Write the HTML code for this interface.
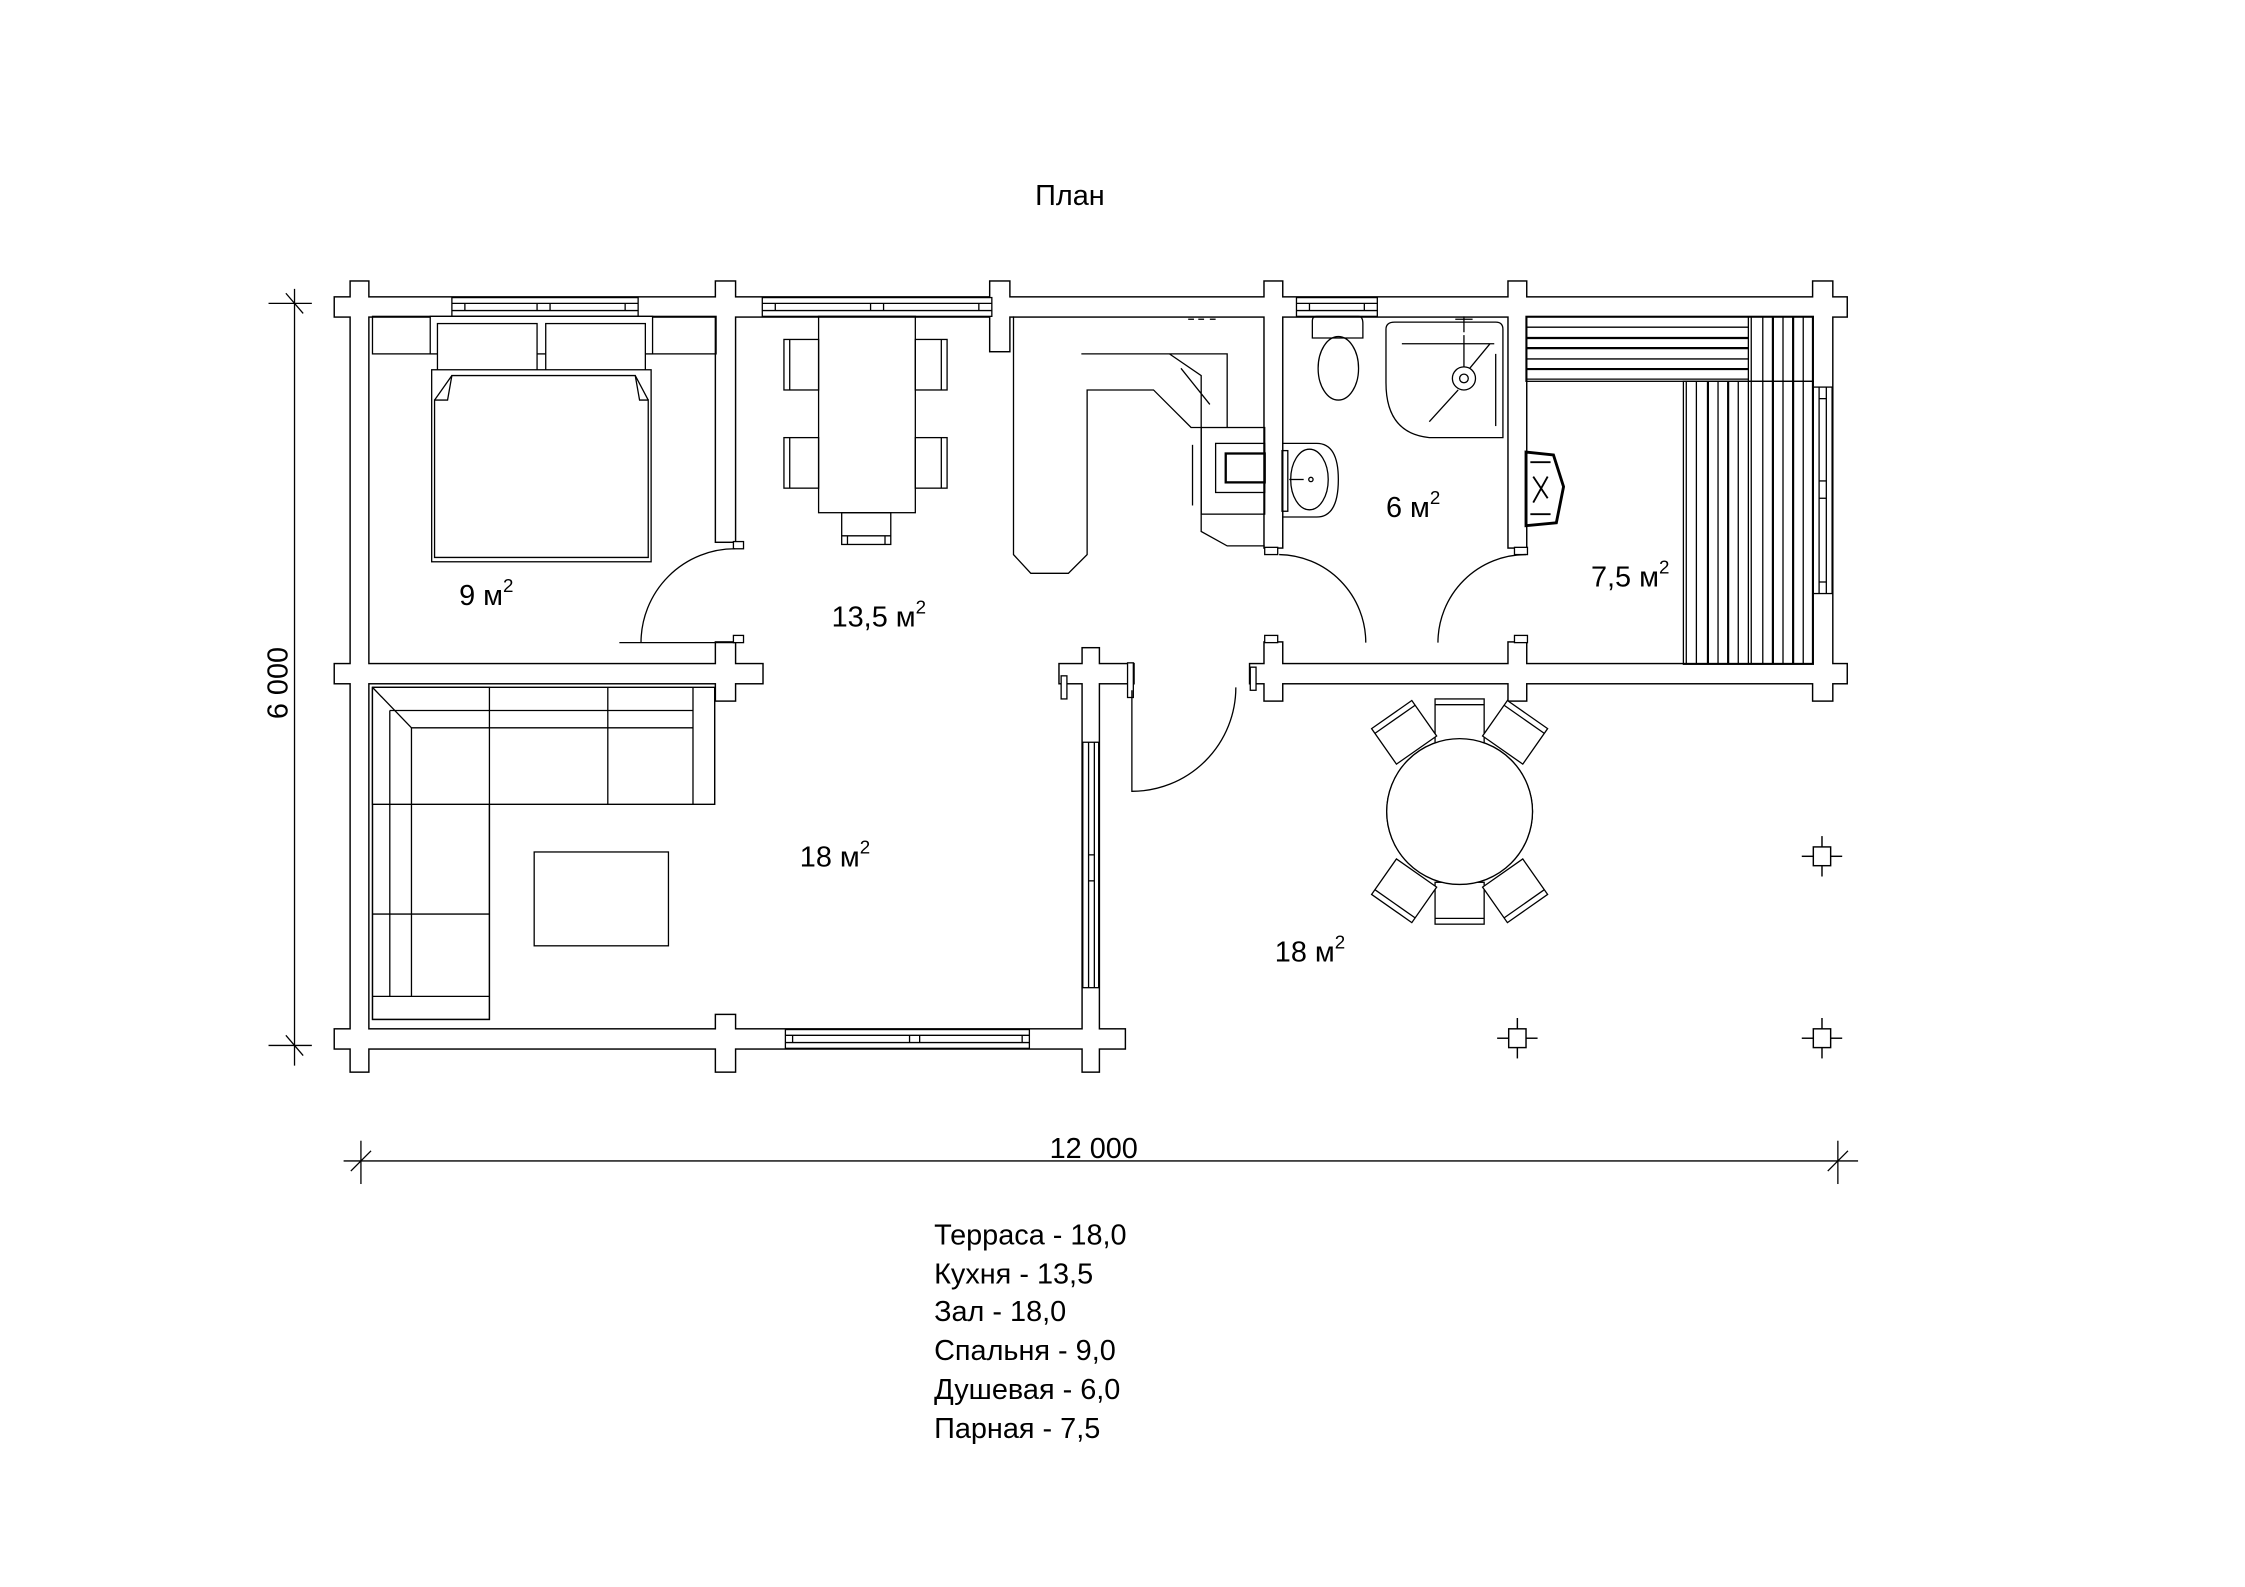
<!DOCTYPE html>
<html><head><meta charset="utf-8"><style>
html,body{margin:0;padding:0;background:#fff}
svg{display:block}
text{font-family:"Liberation Sans",sans-serif;fill:#000}
</style></head><body>
<svg width="2245" height="1587" viewBox="0 0 1555 1099" xmlns="http://www.w3.org/2000/svg">
<defs>
<g id="walls">
 <rect x="232" y="206" width="1047" height="13"/>
 <rect x="232" y="460" width="296" height="13"/>
 <rect x="232" y="713" width="547" height="13"/>
 <rect x="866" y="460" width="413" height="13"/>
 <rect x="734" y="460" width="51" height="13"/>
 <rect x="243" y="195" width="12" height="547"/>
 <rect x="496" y="195" width="13" height="180"/>
 <rect x="496" y="445" width="13" height="40"/>
 <rect x="496" y="703" width="13" height="39"/>
 <rect x="686" y="195" width="13" height="48"/>
 <rect x="876" y="195" width="12" height="184"/>
 <rect x="876" y="445" width="12" height="40"/>
 <rect x="1045" y="195" width="12" height="184"/>
 <rect x="1045" y="445" width="12" height="40"/>
 <rect x="1256" y="195" width="13" height="290"/>
 <rect x="750" y="449" width="11" height="293"/>
</g>
<g id="col"><rect x="-6" y="-6.5" width="12" height="13" fill="#fff" stroke="#000"/><line x1="-14" y1="0" x2="-6" y2="0" stroke="#000"/><line x1="6" y1="0" x2="14" y2="0" stroke="#000"/><line x1="0" y1="-14" x2="0" y2="-6.5" stroke="#000"/><line x1="0" y1="6.5" x2="0" y2="14" stroke="#000"/></g>
</defs>
<rect width="1555" height="1099" fill="#fff"/>
<g fill="none" stroke="#000" stroke-width="1">
<use href="#walls" stroke-width="2"/>
</g>
<use href="#walls" fill="#fff" stroke="#fff" stroke-width="0"/>

<g fill="#fff" stroke="#000" stroke-width="0.9">
<!-- windows -->
<rect x="313" y="206" width="129" height="13"/><line x1="313" y1="210" x2="442" y2="210"/><line x1="313" y1="215" x2="442" y2="215"/><line x1="322" y1="210" x2="322" y2="215"/><line x1="433" y1="210" x2="433" y2="215"/><line x1="372" y1="210" x2="372" y2="215"/><line x1="381" y1="210" x2="381" y2="215"/>
<rect x="528" y="206" width="159" height="13"/><line x1="528" y1="210" x2="687" y2="210"/><line x1="528" y1="215" x2="687" y2="215"/><line x1="537" y1="210" x2="537" y2="215"/><line x1="678" y1="210" x2="678" y2="215"/><line x1="603" y1="210" x2="603" y2="215"/><line x1="612" y1="210" x2="612" y2="215"/>
<rect x="898" y="206" width="56" height="13"/><line x1="898" y1="210" x2="954" y2="210"/><line x1="898" y1="215" x2="954" y2="215"/><line x1="907" y1="210" x2="907" y2="215"/><line x1="945" y1="210" x2="945" y2="215"/>
<rect x="544" y="713" width="169" height="13"/><line x1="544" y1="717" x2="713" y2="717"/><line x1="544" y1="722" x2="713" y2="722"/><line x1="549" y1="717" x2="549" y2="722"/><line x1="708" y1="717" x2="708" y2="722"/><line x1="630" y1="717" x2="630" y2="722"/><line x1="637" y1="717" x2="637" y2="722"/>
<rect x="750" y="514" width="11" height="170"/><line x1="754" y1="514" x2="754" y2="684"/><line x1="758" y1="514" x2="758" y2="684"/><line x1="754" y1="592" x2="758" y2="592"/><line x1="754" y1="610" x2="758" y2="610"/>
<rect x="1256" y="268" width="13" height="143"/><line x1="1260" y1="268" x2="1260" y2="411"/><line x1="1265" y1="268" x2="1265" y2="411"/><line x1="1260" y1="276" x2="1265" y2="276"/><line x1="1260" y1="403" x2="1265" y2="403"/><line x1="1260" y1="333" x2="1265" y2="333"/><line x1="1260" y1="345" x2="1265" y2="345"/>
<!-- small jamb rects -->
<rect x="735" y="468" width="4" height="16"/><rect x="781" y="459" width="4" height="24"/><rect x="866" y="462" width="4" height="16"/>
<rect x="508" y="375" width="7" height="5"/><rect x="508" y="440" width="7" height="5"/>
<rect x="876" y="379" width="9" height="5"/><rect x="876" y="440" width="9" height="5"/>
<rect x="1049" y="379" width="9" height="5"/><rect x="1049" y="440" width="9" height="5"/>
</g>

<g fill="none" stroke="#000" stroke-width="0.9">
<!-- doors -->
<path d="M509 380 A65 65 0 0 0 444 445 L429 445 M509 445 L444 445"/>
<path d="M886 384 A61 61 0 0 1 946 445 L946 445"/>
<path d="M1057 384 A61 61 0 0 0 996 445"/>
<path d="M784 478 L784 548 A72 72 0 0 0 856 476"/>
<!-- bedroom -->
<rect x="258" y="219" width="238" height="26"/>
<rect x="298" y="219" width="154" height="26" fill="#fff"/>
<rect x="303" y="224" width="69" height="36" fill="#fff"/>
<rect x="378" y="224" width="69" height="36" fill="#fff"/>
<rect x="299" y="256" width="152" height="133" fill="#fff"/>
<path d="M301 386 L301 277 L310 277 L313 260 L440 260 L443 277 L449 277 L449 386 Z"/>
<path d="M301 277 L313 260 M449 277 L440 260"/>
<!-- kitchen table -->
<rect x="567" y="219" width="67" height="136"/>
<rect x="543" y="235" width="24" height="35"/><line x1="547" y1="235" x2="547" y2="270"/>
<rect x="543" y="303" width="24" height="35"/><line x1="547" y1="303" x2="547" y2="338"/>
<rect x="634" y="235" width="22" height="35"/><line x1="652" y1="235" x2="652" y2="270"/>
<rect x="634" y="303" width="22" height="35"/><line x1="652" y1="303" x2="652" y2="338"/>
<rect x="583" y="355" width="34" height="22"/><line x1="583" y1="371" x2="617" y2="371"/><line x1="587" y1="371" x2="587" y2="377"/><line x1="613" y1="371" x2="613" y2="377"/>
<!-- kitchen counter -->
<path d="M702 219 L702 384 L714 397 L740 397 L753 384 L753 270 L799 270 L825 296 L832 296 L832 368 L850 378 L876 378"/>
<path d="M749 245 L850 245 L850 296"/>
<path d="M832 296 L832 260 L810 245 M818 255 L838 280"/>
<rect x="832" y="296" width="44" height="60"/>
<rect x="842" y="307" width="34" height="34"/>
<rect x="849" y="314" width="27" height="20" stroke-width="1.6"/>
<line x1="826" y1="308" x2="826" y2="350"/>
<line x1="823" y1="221" x2="827" y2="221"/><line x1="830" y1="221" x2="834" y2="221"/><line x1="838" y1="221" x2="842" y2="221"/>
<!-- bathroom -->
<path d="M909 222 Q909 219 912 219 L941 219 Q944 219 944 224 L944 234 L909 234 Z"/>
<ellipse cx="927" cy="255" rx="14" ry="22"/>
<path d="M960 228 Q960 223 966 223 L1036 223 Q1041 223 1041 228 L1041 303 L990 303 Q960 300 960 265 Z"/>
<circle cx="1014" cy="262" r="8"/><circle cx="1014" cy="262" r="3"/>
<line x1="971" y1="238" x2="1035" y2="238"/><line x1="1014" y1="232" x2="1014" y2="254"/>
<line x1="1018" y1="255" x2="1032" y2="238"/><line x1="1010" y1="270" x2="990" y2="292"/>
<line x1="1036" y1="245" x2="1036" y2="295"/>
<path d="M1008 221 L1020 221 M1014 219 L1014 230"/>
<path d="M888 307 L912 307 Q927 307 927 332 Q927 358 912 358 L888 358"/>
<ellipse cx="907" cy="332" rx="13" ry="21"/>
<rect x="888" y="312" width="4" height="42"/>
<circle cx="908" cy="332" r="1.5"/><line x1="893" y1="332" x2="903" y2="332"/>
<!-- sauna benches -->
<rect x="1057" y="219" width="199" height="45" fill="none"/>
<line x1="1057" y1="226.5" x2="1211" y2="226.5"/><line x1="1057" y1="234" x2="1211" y2="234" stroke-width="1.5"/><line x1="1057" y1="241" x2="1211" y2="241" stroke-width="1.5"/><line x1="1057" y1="248.5" x2="1211" y2="248.5"/><line x1="1057" y1="255.5" x2="1211" y2="255.5" stroke-width="1.5"/><line x1="1057" y1="262.5" x2="1211" y2="262.5"/>
<rect x="1166" y="264" width="90" height="196"/>
<line x1="1211" y1="219" x2="1211" y2="460"/><line x1="1213" y1="219" x2="1213" y2="460"/>
<line x1="1221" y1="219" x2="1221" y2="460"/><line x1="1228" y1="219" x2="1228" y2="460" stroke-width="1.5"/><line x1="1235" y1="219" x2="1235" y2="460"/><line x1="1242" y1="219" x2="1242" y2="460" stroke-width="1.5"/><line x1="1249" y1="219" x2="1249" y2="460"/>
<line x1="1168" y1="264" x2="1168" y2="460"/><line x1="1175" y1="264" x2="1175" y2="460"/><line x1="1183" y1="264" x2="1183" y2="460" stroke-width="1.5"/><line x1="1190" y1="264" x2="1190" y2="460"/><line x1="1197" y1="264" x2="1197" y2="460" stroke-width="1.5"/><line x1="1204" y1="264" x2="1204" y2="460"/>
<!-- stove -->
<path d="M1057 313 L1076 315 L1083 337 L1078 362 L1057 364 Z" stroke-width="2"/>
<path d="M1060 320 L1074 320 M1060 356 L1074 356 M1062 330 L1072 345 M1072 330 L1062 348" stroke-width="1.3"/>
<!-- sofa -->
<rect x="258" y="476" width="237" height="81"/>
<rect x="258" y="476" width="81" height="230"/>
<rect x="258" y="476" width="237" height="81" fill="#fff" stroke="none"/>
<path d="M258 476 L495 476 L495 557 L339 557 L339 706 L258 706 Z"/>
<line x1="270" y1="492" x2="480" y2="492"/><line x1="285" y1="504" x2="480" y2="504"/>
<line x1="270" y1="492" x2="270" y2="690"/><line x1="285" y1="504" x2="285" y2="690"/>
<line x1="258" y1="476" x2="285" y2="504"/>
<line x1="480" y1="476" x2="480" y2="557"/>
<line x1="339" y1="476" x2="339" y2="557"/><line x1="421" y1="476" x2="421" y2="557"/>
<line x1="258" y1="557" x2="339" y2="557"/><line x1="258" y1="633" x2="339" y2="633"/><line x1="258" y1="690" x2="339" y2="690"/>
<rect x="370" y="590" width="93" height="65"/>
<!-- terrace table -->
<circle cx="1011" cy="562" r="50.5"/>
<rect x="994" y="484" width="34" height="31" fill="#fff"/><line x1="994" y1="488" x2="1028" y2="488"/>
<rect x="994" y="611" width="34" height="29" fill="#fff"/><line x1="994" y1="636" x2="1028" y2="636"/>
<g fill="#fff">
<g transform="translate(1011 562) rotate(-55)"><rect x="52" y="-17" width="30" height="34"/><line x1="78" y1="-17" x2="78" y2="17"/></g>
<g transform="translate(1011 562) rotate(55)"><rect x="52" y="-17" width="30" height="34"/><line x1="78" y1="-17" x2="78" y2="17"/></g>
<g transform="translate(1011 562) rotate(125)"><rect x="52" y="-17" width="30" height="34"/><line x1="78" y1="-17" x2="78" y2="17"/></g>
<g transform="translate(1011 562) rotate(-125)"><rect x="52" y="-17" width="30" height="34"/><line x1="78" y1="-17" x2="78" y2="17"/></g>
</g>
<circle cx="1011" cy="562" r="50.5" fill="#fff"/>
<!-- dimension lines -->
<line x1="204" y1="200" x2="204" y2="738"/>
<line x1="186" y1="210" x2="216" y2="210"/><line x1="186" y1="724" x2="216" y2="724"/>
<line x1="198" y1="203" x2="210" y2="217"/><line x1="198" y1="717" x2="210" y2="731"/>
<line x1="238" y1="804" x2="1287" y2="804"/>
<line x1="250" y1="790" x2="250" y2="820"/><line x1="1273" y1="790" x2="1273" y2="820"/>
<line x1="243" y1="811" x2="257" y2="797"/><line x1="1266" y1="811" x2="1280" y2="797"/>
</g>
<use href="#col" x="1262" y="593"/>
<use href="#col" x="1051" y="719"/>
<use href="#col" x="1262" y="719"/>

<g font-size="20">
<text x="717" y="142">План</text>
<text x="318" y="419">9 м<tspan font-size="13" dy="-9">2</tspan></text>
<text x="576" y="434">13,5 м<tspan font-size="13" dy="-9">2</tspan></text>
<text x="554" y="600">18 м<tspan font-size="13" dy="-9">2</tspan></text>
<text x="883" y="666">18 м<tspan font-size="13" dy="-9">2</tspan></text>
<text x="960" y="358">6 м<tspan font-size="13" dy="-9">2</tspan></text>
<text x="1102" y="406">7,5 м<tspan font-size="13" dy="-9">2</tspan></text>
<text x="727" y="802">12 000</text>
<text transform="translate(199 498) rotate(-90)">6 000</text>
<text x="647" y="862">Терраса - 18,0</text>
<text x="647" y="889">Кухня - 13,5</text>
<text x="647" y="915">Зал - 18,0</text>
<text x="647" y="942">Спальня - 9,0</text>
<text x="647" y="969">Душевая - 6,0</text>
<text x="647" y="996">Парная - 7,5</text>
</g>
</svg>
</body></html>
